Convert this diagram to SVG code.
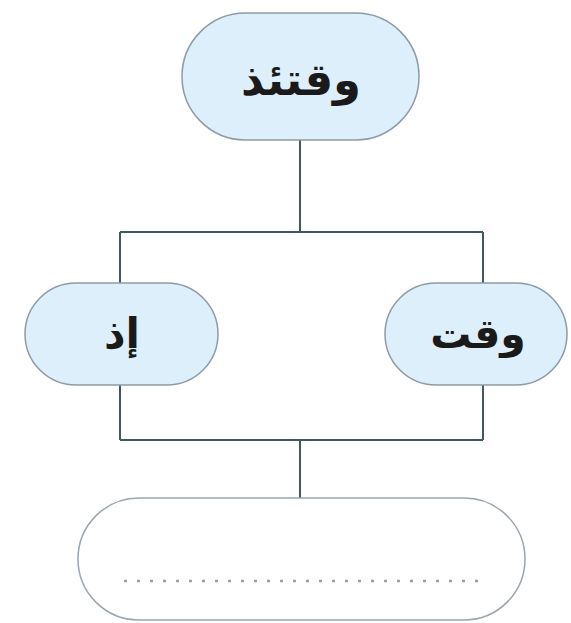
<svg xmlns="http://www.w3.org/2000/svg" width="571" height="623" viewBox="0 0 571 623">
<style>
.node{fill:#ddeffb;stroke:#8d9ba6;stroke-width:1.5}
.empty{fill:#ffffff;stroke:#9aa5ad;stroke-width:1.5}
.lbl{font-family:"DejaVu Sans",sans-serif;font-weight:bold;fill:#1a1a1a;text-anchor:middle}
.conn{fill:none;stroke:#3f5a5c;stroke-width:2}
</style>
<rect width="571" height="623" fill="#ffffff"/>
<g id="connectors">
<path class="conn" d="M300,140 V232 M120,232 H483 M120,232 V283 M483,232 V283 M120,385 V440 M483,385 V440 M120,440 H483 M300,440 V498"/>
</g>
<g id="node-top">
<rect class="node" x="182" y="13" width="237" height="127" rx="63.5"/>
<text class="lbl" x="301" y="95" font-size="45" direction="rtl">وقتئذ</text>
</g>
<g id="node-left">
<rect class="node" x="25" y="283" width="193" height="102" rx="51"/>
<text class="lbl" x="122" y="348" font-size="42" direction="rtl">إذ</text>
</g>
<g id="node-right">
<rect class="node" x="385" y="283" width="182" height="102" rx="51"/>
<text class="lbl" x="478" y="348" font-size="41" direction="rtl">وقت</text>
</g>
<g id="node-bottom">
<rect class="empty" x="78" y="498" width="447" height="122" rx="61"/>
<line x1="124" y1="581" x2="480" y2="581" stroke="#9aa0a6" stroke-width="2.5" stroke-dasharray="3,10"/>
</g>
</svg>
